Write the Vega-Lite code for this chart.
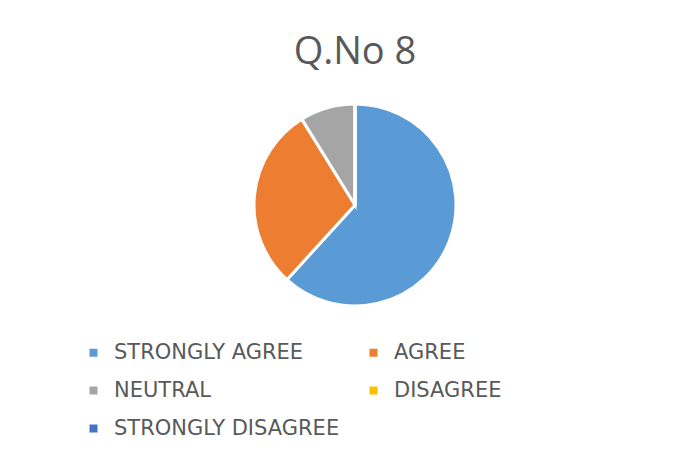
{
  "$schema": "https://vega.github.io/schema/vega-lite/v6.json",
  "autosize": "none",
  "padding": {"left": 254, "top": 104, "right": 235, "bottom": 157},
  "width": 202,
  "height": 202,
  "background": "white",
  "title": {
    "text": "Q.No 8",
    "font": "Open Sans",
    "fontSize": 38,
    "fontWeight": "normal",
    "color": "#595959",
    "anchor": "middle",
    "offset": 26
  },
  "data": {
    "values": [
      {"idx": 1, "response": "STRONGLY AGREE", "count": 21},
      {"idx": 2, "response": "AGREE", "count": 10},
      {"idx": 3, "response": "NEUTRAL", "count": 3},
      {"idx": 4, "response": "DISAGREE", "count": 0},
      {"idx": 5, "response": "STRONGLY DISAGREE", "count": 0}
    ]
  },
  "mark": {"type": "arc", "stroke": "white", "strokeWidth": 3},
  "encoding": {
    "theta": {"field": "count", "type": "quantitative", "stack": true},
    "order": {"field": "idx", "type": "quantitative"},
    "color": {
      "field": "response",
      "type": "nominal",
      "sort": ["STRONGLY AGREE", "AGREE", "NEUTRAL", "DISAGREE", "STRONGLY DISAGREE"],
      "scale": {
        "domain": ["STRONGLY AGREE", "AGREE", "NEUTRAL", "DISAGREE", "STRONGLY DISAGREE"],
        "range": ["#5B9BD5", "#ED7D31", "#A5A5A5", "#FFC000", "#4472C4"]
      },
      "legend": {
        "title": null,
        "orient": "none",
        "direction": "horizontal",
        "legendX": -171,
        "legendY": 238,
        "columns": 2,
        "symbolType": "square",
        "symbolSize": 64,
        "symbolStrokeWidth": 0,
        "labelFont": "DejaVu Sans",
        "labelFontSize": 21,
        "labelColor": "#595959",
        "labelOffset": 10,
        "labelLimit": 400,
        "rowPadding": 16,
        "columnPadding": 23,
        "padding": 0
      }
    }
  },
  "config": {"view": {"stroke": null}}
}
